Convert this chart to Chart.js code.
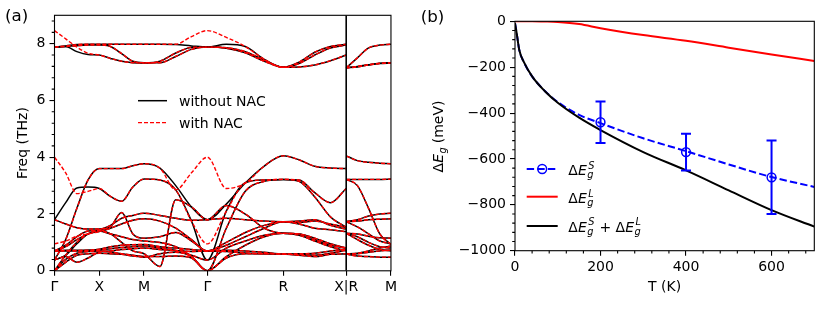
<!DOCTYPE html>
<html>
<head>
<meta charset="utf-8">
<script src="https://cdn.jsdelivr.net/npm/chart.js@4.4.0/dist/chart.umd.min.js"></script>
<style>
  html, body { margin: 0; padding: 0; background: #fff; }
  #wrap { position: relative; width: 830px; height: 312px; }
  #ca { position: absolute; left: 0; top: 0; }
  #cb { position: absolute; left: 400px; top: 0; }
</style>
</head>
<body>
<div id="wrap">
  <canvas id="ca" width="400" height="312"></canvas>
  <canvas id="cb" width="430" height="312"></canvas>
</div>
<script>
// ---- panel (a): phonon bands ----
const kPos = [0, 0.5, 1.0, 1.707, 2.555, 3.258, 3.758];
const kLabels = ['Γ', 'X', 'M', 'Γ', 'R', 'X|R', 'M'];
const freqTicks = [0, 2, 4, 6, 8];

// q-path sample positions: Γ-X-M-Γ-R-X, then the R-M piece
const pathX = [0, 0.125, 0.25, 0.375, 0.5, 0.625, 0.75, 0.875, 1.0, 1.177, 1.354, 1.53, 1.707,
               1.919, 2.131, 2.343, 2.555, 2.731, 2.907, 3.082, 3.258];
const rmX = [3.258, 3.383, 3.508, 3.633, 3.758];

// without NAC (THz)
const bandsPath = [
  [0.38, 1.1, 2.2, 3.2, 3.6, 3.6, 3.6, 3.7, 3.77, 3.62, 3.0, 2.25, 1.8, 2.35, 3.09, 3.69, 4.05, 3.91, 3.68, 3.62, 3.6],
  [1.8, 2.4, 2.92, 2.95, 2.9, 2.62, 2.45, 2.95, 3.23, 3.2, 2.85, 1.75, 0.38, 2.1, 3.1, 3.2, 3.22, 3.2, 2.75, 2.4, 2.9],
  [1.8, 1.65, 1.52, 1.47, 1.47, 1.6, 1.85, 1.95, 2.03, 1.95, 1.85, 1.78, 1.8, 1.85, 1.8, 1.75, 1.73, 1.75, 1.8, 1.6, 1.47],
  [0.7, 0.9, 1.2, 1.4, 1.42, 1.3, 1.0, 0.7, 0.6, 0.15, 2.5, 2.25, 1.8, 2.3, 2.0, 1.5, 1.32, 1.3, 1.1, 0.9, 0.8],
  [0.38, 0.55, 0.95, 1.3, 1.38, 1.5, 1.65, 1.78, 1.83, 1.75, 1.5, 1.1, 0.7, 1.0, 1.35, 1.6, 1.73, 1.65, 1.5, 1.45, 1.38],
  [0.7, 0.85, 1.1, 1.3, 1.45, 1.55, 2.05, 1.3, 1.15, 1.2, 1.35, 1.05, 0.7, 0.9, 1.2, 1.5, 1.73, 1.7, 1.75, 1.65, 1.53],
  [0.7, 0.72, 0.72, 0.73, 0.76, 0.85, 0.9, 0.92, 0.93, 0.85, 0.8, 0.75, 0.7, 0.72, 0.7, 0.65, 0.59, 0.6, 0.62, 0.7, 0.76],
  [0.7, 0.7, 0.7, 0.7, 0.73, 0.78, 0.82, 0.85, 0.87, 0.8, 0.72, 0.68, 0.7, 0.68, 0.63, 0.6, 0.59, 0.57, 0.55, 0.62, 0.73],
  [0.38, 0.5, 0.3, 0.45, 0.66, 0.7, 0.75, 0.78, 0.8, 0.75, 0.7, 0.55, 0.38, 0.8, 1.05, 1.25, 1.32, 1.25, 1.05, 0.85, 0.7],
  [0, 0.4, 0.62, 0.68, 0.7, 0.66, 0.6, 0.55, 0.5, 0.5, 0.52, 0.45, 0, 0.5, 0.9, 1.2, 1.32, 1.3, 1.15, 0.95, 0.8],
  [0, 0.3, 0.55, 0.6, 0.62, 0.6, 0.58, 0.52, 0.48, 0.6, 0.65, 0.5, 0, 0.45, 0.6, 0.6, 0.59, 0.55, 0.5, 0.58, 0.6],
  [0, 0.55, 1.0, 1.3, 1.4, 1.3, 1.2, 1.1, 1.05, 1.0, 0.85, 0.5, 0, 1.5, 2.8, 3.15, 3.22, 3.15, 2.6, 1.9, 1.53],
  [7.88, 7.9, 7.72, 7.62, 7.6, 7.48, 7.38, 7.33, 7.32, 7.38, 7.67, 7.87, 7.88, 7.86, 7.72, 7.42, 7.17, 7.18, 7.25, 7.4, 7.6],
  [7.88, 7.9, 7.93, 7.95, 7.95, 7.9, 7.65, 7.38, 7.33, 7.33, 7.55, 7.8, 7.88, 7.84, 7.68, 7.38, 7.17, 7.3, 7.6, 7.85, 7.95],
  [7.88, 7.92, 7.97, 7.98, 7.98, 7.98, 7.98, 7.98, 7.98, 7.98, 7.97, 7.92, 7.88, 7.98, 7.9, 7.45, 7.17, 7.35, 7.7, 7.9, 7.98]
];
const bandsRM = [
  [4.05, 3.88, 3.82, 3.79, 3.77],
  [3.22, 3.22, 3.22, 3.22, 3.23],
  [1.73, 1.8, 1.93, 2.0, 2.03],
  [1.32, 1.3, 1.22, 1.16, 1.15],
  [1.73, 1.75, 1.8, 1.82, 1.83],
  [1.73, 1.55, 1.3, 1.05, 0.95],
  [0.59, 0.62, 0.7, 0.8, 0.87],
  [0.59, 0.6, 0.65, 0.7, 0.73],
  [1.32, 1.2, 1.0, 0.85, 0.8],
  [1.32, 1.1, 0.9, 0.75, 0.7],
  [0.59, 0.52, 0.5, 0.48, 0.48],
  [3.22, 3.0, 2.2, 1.3, 0.93],
  [7.15, 7.18, 7.25, 7.3, 7.32],
  [7.15, 7.2, 7.26, 7.31, 7.33],
  [7.15, 7.5, 7.85, 7.95, 7.98]
];
// with NAC: only the branches that split near Γ
const nacPath = {
  0: [0.38, 1.1, 2.2, 3.2, 3.6, 3.6, 3.6, 3.7, 3.77, 3.62, 2.85, 3.45, 4.0, 2.9, 3.09, 3.69, 4.05, 3.91, 3.68, 3.62, 3.6],
  1: [4.0, 3.45, 2.72, 2.8, 2.9, 2.62, 2.45, 2.95, 3.23, 3.2, 2.85, 1.75, 0.95, 2.1, 3.1, 3.2, 3.22, 3.2, 2.75, 2.4, 2.9],
  4: [0.95, 1.05, 1.22, 1.3, 1.38, 1.5, 1.65, 1.78, 1.83, 1.75, 1.5, 1.1, 0.7, 1.0, 1.35, 1.6, 1.73, 1.65, 1.5, 1.45, 1.38],
  12: [8.46, 8.17, 7.88, 7.66, 7.6, 7.48, 7.38, 7.33, 7.32, 7.38, 7.67, 7.87, 7.88, 7.86, 7.72, 7.42, 7.17, 7.18, 7.25, 7.4, 7.6],
  14: [7.88, 7.92, 7.97, 7.98, 7.98, 7.98, 7.98, 7.98, 7.98, 7.98, 7.98, 8.25, 8.46, 8.22, 7.9, 7.45, 7.17, 7.35, 7.7, 7.9, 7.98]
};

// ---- panel (b): gap renormalisation ----
const tempK = [0, 2, 5, 10, 20, 40, 70, 100, 150, 200, 300, 400, 500, 600, 700];
const dEsum = [-8, -30, -65, -125, -175, -240, -305, -355, -420, -474, -570, -650, -737, -823, -895];
const dEL = [0, 0, 0, 0, 0, 0, -1, -3, -12, -30, -60, -85, -115, -145, -173];
const dES = [-8, -30, -65, -125, -175, -240, -304, -352, -408, -444, -510, -566, -624, -679, -722];
const errT = [200, 400, 600];
const errMean = [-440, -570, -680];
const errLow = [-530, -650, -840];
const errHigh = [-350, -490, -520];
const tTicks = [0, 200, 400, 600];
const eTicks = [-1000, -800, -600, -400, -200, 0];

Chart.defaults.font.family = "'DejaVu Sans', sans-serif";
Chart.defaults.font.size = 14;
Chart.defaults.color = '#000';

const FONT = "'DejaVu Sans', sans-serif";

function makeDeco(minorX, minorY, draw) {
  return {
    id: 'deco',
    afterDatasetsDraw(chart) {
      const { ctx, chartArea: a, scales } = chart;
      ctx.save();
      ctx.strokeStyle = '#000';
      ctx.lineWidth = 1.1;
      ctx.setLineDash([]);
      ctx.strokeRect(a.left, a.top, a.right - a.left, a.bottom - a.top);
      ctx.beginPath();
      minorX.forEach(v => {
        const px = scales.x.getPixelForValue(v);
        ctx.moveTo(px, a.bottom); ctx.lineTo(px, a.bottom + 2.8);
      });
      minorY.forEach(v => {
        const py = scales.y.getPixelForValue(v);
        ctx.moveTo(a.left - 2.8, py); ctx.lineTo(a.left, py);
      });
      ctx.stroke();
      draw(ctx, chart);
      ctx.restore();
    }
  };
}

function minors(lo, hi, step, majorStep) {
  const out = [];
  for (let i = 1; lo + i * step < hi + 1e-9; i++) {
    const v = lo + i * step;
    if (Math.abs(v / majorStep - Math.round(v / majorStep)) > 1e-6) out.push(v);
  }
  return out;
}

// ΔE_g^sup drawn mathtext-style; returns end x
function deltaE(ctx, x, y, sup, size, dry) {
  let w = 0;
  ctx.font = size + 'px ' + FONT;
  if (!dry) ctx.fillText('Δ', x, y);
  w += ctx.measureText('Δ').width;
  ctx.font = 'italic ' + size + 'px ' + FONT;
  if (!dry) ctx.fillText('E', x + w, y);
  w += ctx.measureText('E').width;
  const s = size * 0.7;
  ctx.font = 'italic ' + s + 'px ' + FONT;
  let sw = ctx.measureText('g').width;
  if (!dry) ctx.fillText('g', x + w + 0.5, y + size * 0.22);
  if (sup) {
    if (!dry) ctx.fillText(sup, x + w + 1.5, y - size * 0.45);
    sw = Math.max(sw, ctx.measureText(sup).width + 1);
  }
  return x + w + sw + 1;
}

function axisCommon(fitKey, fitVal) {
  return {
    grid: { drawOnChartArea: false, drawTicks: true, tickLength: 5, color: '#000', lineWidth: 1.1 },
    border: { display: false },
    afterFit: s => { s[fitKey] = fitVal; }
  };
}

// ---------- chart A ----------
function bandPoints(path, rm) {
  const pts = pathX.map((x, i) => ({ x, y: path[i] }));
  pts.push({ x: pathX[pathX.length - 1], y: null });
  rm.forEach((y, i) => pts.push({ x: rmX[i], y }));
  return pts;
}

const dsA = [];
bandsPath.forEach((p, i) => {
  dsA.push({ data: bandPoints(nacPath[i] || p, bandsRM[i]), borderColor: '#ff0000', borderWidth: 1.4, borderDash: [4, 2], order: 1 });
  dsA.push({ data: bandPoints(p, bandsRM[i]), borderColor: '#000', borderWidth: 1.5, order: 2 });
});
dsA.push({ data: [{ x: kPos[5], y: 0 }, { x: kPos[5], y: 9 }], borderColor: '#000', borderWidth: 1.6, order: 0 });
dsA.forEach(d => Object.assign(d, { showLine: true, pointRadius: 0, fill: false, cubicInterpolationMode: 'monotone' }));

const decoA = makeDeco([], minors(0, 9, 0.4, 2), (ctx) => {
  ctx.fillStyle = '#000';
  ctx.textBaseline = 'alphabetic';
  ctx.font = '16.7px ' + FONT;
  ctx.fillText('(a)', 5, 21);
  // y title
  ctx.save();
  ctx.translate(27, 143);
  ctx.rotate(-Math.PI / 2);
  ctx.font = '14px ' + FONT;
  ctx.textAlign = 'center';
  ctx.fillText('Freq (THz)', 0, 0);
  ctx.restore();
  // legend
  ctx.lineWidth = 1.5; ctx.strokeStyle = '#000'; ctx.setLineDash([]);
  ctx.beginPath(); ctx.moveTo(138, 100.7); ctx.lineTo(167, 100.7); ctx.stroke();
  ctx.lineWidth = 1.2; ctx.strokeStyle = '#ff0000'; ctx.setLineDash([4, 2]);
  ctx.beginPath(); ctx.moveTo(138, 122.7); ctx.lineTo(167, 122.7); ctx.stroke();
  ctx.setLineDash([]);
  ctx.font = '14px ' + FONT;
  ctx.fillText('without NAC', 179, 106);
  ctx.fillText('with NAC', 179, 128);
});

new Chart(document.getElementById('ca'), {
  type: 'scatter',
  data: { datasets: dsA },
  options: {
    responsive: false, animation: false, events: [],
    devicePixelRatio: 1,
    layout: { padding: { left: 0, top: 15.3, right: 7.3, bottom: 0 } },
    plugins: { legend: { display: false }, tooltip: { enabled: false } },
    scales: {
      x: Object.assign(axisCommon('height', 41.2), {
        type: 'linear', min: 0, max: kPos[kPos.length - 1],
        afterBuildTicks: s => { s.ticks = kPos.map(v => ({ value: v })); },
        ticks: { autoSkip: false, maxRotation: 0, padding: 3, callback: (v, i) => kLabels[i] }
      }),
      y: Object.assign(axisCommon('width', 54.5), {
        type: 'linear', min: 0, max: 9,
        afterBuildTicks: s => { s.ticks = freqTicks.map(v => ({ value: v })); },
        ticks: { padding: 4 }
      })
    }
  },
  plugins: [decoA]
});

// ---------- chart B ----------
const lineB = (ys, color, width, extra) => Object.assign({
  data: tempK.map((t, i) => ({ x: t, y: ys[i] })),
  borderColor: color, borderWidth: width, pointRadius: 0, showLine: true,
  fill: false, cubicInterpolationMode: 'monotone'
}, extra);

const dsB = [
  lineB(dEsum, '#000', 2, { order: 0 }),
  lineB(dEL, '#ff0000', 2, { order: 1 }),
  lineB(dES, '#0000ff', 2, { order: 2, borderDash: [7.4, 3.2] }),
  {
    data: errT.map((t, i) => ({ x: t, y: errMean[i] })),
    showLine: false, pointRadius: 4.4, pointBorderWidth: 1.5,
    pointBorderColor: '#0000ff', pointBackgroundColor: 'rgba(0,0,0,0)', order: -1
  }
];

const decoB = makeDeco(minors(0, 700, 40, 200), minors(-1000, 0, 40, 200), (ctx, chart) => {
  const { x: sx, y: sy } = chart.scales;
  const a = chart.chartArea;
  // error bars
  ctx.strokeStyle = '#0000ff'; ctx.lineWidth = 2; ctx.setLineDash([]);
  ctx.beginPath();
  errT.forEach((t, i) => {
    const px = sx.getPixelForValue(t);
    const lo = sy.getPixelForValue(errLow[i]);
    const hi = sy.getPixelForValue(errHigh[i]);
    ctx.moveTo(px, lo); ctx.lineTo(px, hi);
    ctx.moveTo(px - 5, lo); ctx.lineTo(px + 5, lo);
    ctx.moveTo(px - 5, hi); ctx.lineTo(px + 5, hi);
  });
  ctx.stroke();

  ctx.fillStyle = '#000';
  ctx.textBaseline = 'alphabetic';
  ctx.font = '16.7px ' + FONT;
  ctx.fillText('(b)', 20.7, 22);

  // x title
  ctx.save();
  ctx.font = '14px ' + FONT;
  ctx.textAlign = 'center';
  ctx.textBaseline = 'middle';
  ctx.fillText('T (K)', (a.left + a.right) / 2, 287.5);
  ctx.restore();

  // y title
  ctx.save();
  ctx.translate(43, 136);
  ctx.rotate(-Math.PI / 2);
  const tail = ' (meV)';
  let w = deltaE(ctx, 0, 0, null, 14, true);
  ctx.font = '14px ' + FONT;
  w += ctx.measureText(tail).width;
  let x0 = -w / 2;
  x0 = deltaE(ctx, x0, 0, null, 14, false);
  ctx.font = '14px ' + FONT;
  ctx.fillText(tail, x0 - 1, 0);
  ctx.restore();

  // legend
  const lx0 = 126.7, lx1 = 157.7, tx = 168.3;
  const rows = [169, 196.7, 226];
  const bases = [175, 203, 231.5];
  ctx.lineWidth = 2;
  ctx.strokeStyle = '#0000ff'; ctx.setLineDash([7.4, 3.2]);
  ctx.beginPath(); ctx.moveTo(lx0, rows[0]); ctx.lineTo(lx1, rows[0]); ctx.stroke();
  ctx.setLineDash([]); ctx.lineWidth = 1.5;
  ctx.beginPath(); ctx.arc((lx0 + lx1) / 2, rows[0], 4.4, 0, Math.PI * 2); ctx.stroke();
  ctx.lineWidth = 2;
  ctx.strokeStyle = '#ff0000';
  ctx.beginPath(); ctx.moveTo(lx0, rows[1]); ctx.lineTo(lx1, rows[1]); ctx.stroke();
  ctx.strokeStyle = '#000';
  ctx.beginPath(); ctx.moveTo(lx0, rows[2]); ctx.lineTo(lx1, rows[2]); ctx.stroke();

  ctx.fillStyle = '#000';
  deltaE(ctx, tx, bases[0], 'S', 14, false);
  deltaE(ctx, tx, bases[1], 'L', 14, false);
  let xx = deltaE(ctx, tx, bases[2], 'S', 14, false);
  ctx.font = '14px ' + FONT;
  ctx.fillText(' + ', xx, bases[2]);
  xx += ctx.measureText(' + ').width;
  deltaE(ctx, xx, bases[2], 'L', 14, false);
});

new Chart(document.getElementById('cb'), {
  type: 'scatter',
  data: { datasets: dsB },
  options: {
    responsive: false, animation: false, events: [],
    devicePixelRatio: 1,
    layout: { padding: { left: 0, top: 21.3, right: 15.7, bottom: 0 } },
    plugins: { legend: { display: false }, tooltip: { enabled: false } },
    scales: {
      x: Object.assign(axisCommon('height', 61.3), {
        type: 'linear', min: 0, max: 700,
        afterBuildTicks: s => { s.ticks = tTicks.map(v => ({ value: v })); },
        ticks: { padding: 3, maxRotation: 0 }
      }),
      y: Object.assign(axisCommon('width', 115), {
        type: 'linear', min: -1000, max: 0,
        afterBuildTicks: s => { s.ticks = eTicks.map(v => ({ value: v })); },
        ticks: { padding: 4, callback: v => (v < 0 ? '\u2212' + Math.abs(v) : String(v)) }
      })
    }
  },
  plugins: [decoB]
});
</script>
</body>
</html>
